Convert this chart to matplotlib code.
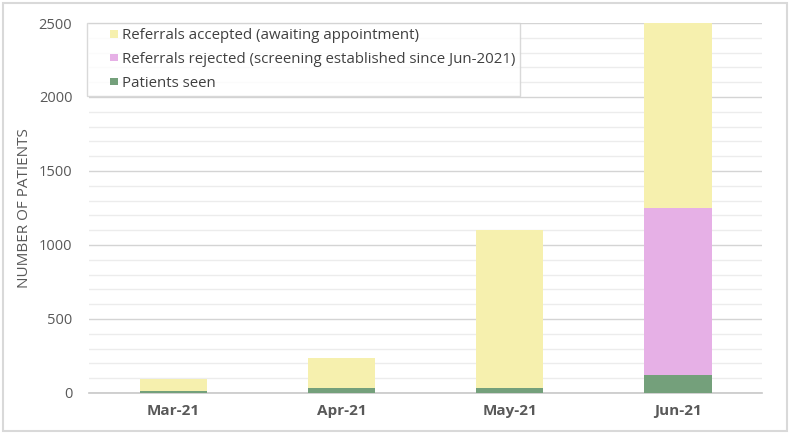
#!/usr/bin/env python3
import matplotlib
matplotlib.use("Agg")
import matplotlib.pyplot as plt
import numpy as np
from matplotlib.patches import Rectangle
from matplotlib.legend_handler import HandlerPatch

months = ["Mar-21", "Apr-21", "May-21", "Jun-21"]
patients_seen = [16, 32, 32, 122]
referrals_rejected = [0, 0, 0, 1128]
referrals_accepted = [79, 202, 1068, 1250]


class SquareHandler(HandlerPatch):
    # small square pushed to the right end of the handle box
    def create_artists(self, legend, orig_handle, xdescent, ydescent,
                       width, height, fontsize, trans):
        side = 0.5 * fontsize
        p = Rectangle((width - side - xdescent, -ydescent + (height - side) / 2),
                      side, side, facecolor=orig_handle.get_facecolor(),
                      edgecolor='none')
        p.set_transform(trans)
        return [p]


plt.rcParams['font.family'] = ['Open Sans', 'DejaVu Sans']

fig = plt.figure(figsize=(7.9, 4.34), dpi=100)
ax = fig.add_axes([0.1127, 0.0945, 0.852, 0.8525])

x = np.arange(len(months))
w = 0.4
c_seen = '#74a07b'
c_rej = '#e6b0e6'
c_acc = '#f6f0ae'

bottom_rej = np.array(patients_seen)
bottom_acc = bottom_rej + np.array(referrals_rejected)

ax.bar(x, patients_seen, w, color=c_seen, zorder=3)
ax.bar(x, referrals_rejected, w, bottom=bottom_rej, color=c_rej, zorder=3)
ax.bar(x, referrals_accepted, w, bottom=bottom_acc, color=c_acc, zorder=3)

ax.set_xlim(-0.5, len(months) - 0.5)
ax.set_ylim(0, 2500)
ax.set_yticks(np.arange(0, 2501, 500))
ax.set_yticks(np.arange(0, 2501, 100), minor=True)
ax.grid(axis='y', which='major', color='#d4d4d4', linewidth=1.0, zorder=0)
ax.grid(axis='y', which='minor', color='#ececec', linewidth=1.0, zorder=0)
ax.set_axisbelow(True)

for s in ['top', 'right', 'left']:
    ax.spines[s].set_visible(False)
ax.spines['bottom'].set_color('#c8c8c8')
ax.spines['bottom'].set_linewidth(1.2)

ax.set_xticks(x)
ax.set_xticklabels(months, fontweight='bold', fontsize=11, color='#595959')
ax.tick_params(axis='x', length=0, pad=8)
ax.tick_params(axis='y', which='both', length=0, labelsize=10.5,
               labelcolor='#595959', pad=12)
ax.set_ylabel('NUMBER OF PATIENTS', fontsize=11, color='#595959', labelpad=5)

proxies = [Rectangle((0, 0), 1, 1, facecolor=c) for c in (c_acc, c_rej, c_seen)]
labels = ['Referrals accepted (awaiting appointment)',
          'Referrals rejected (screening established since Jun-2021)',
          'Patients seen']
leg = ax.legend(proxies, labels, loc='upper left',
                bbox_to_anchor=(-0.003, 1.0), fontsize=10.8,
                handler_map={Rectangle: SquareHandler()},
                frameon=True, fancybox=False, edgecolor='#d0d0d0',
                handlelength=1.7, handleheight=0.7, handletextpad=0.25,
                borderpad=0.35, labelspacing=0.58, borderaxespad=0.0)
leg.get_frame().set_linewidth(1.0)
for t in leg.get_texts():
    t.set_color('#404040')

fig.patches.append(Rectangle((0.004, 0.006), 0.992, 0.988, transform=fig.transFigure,
                             fill=False, edgecolor='#d9d9d9', linewidth=1.5))

fig.savefig('out.png', dpi=100)
